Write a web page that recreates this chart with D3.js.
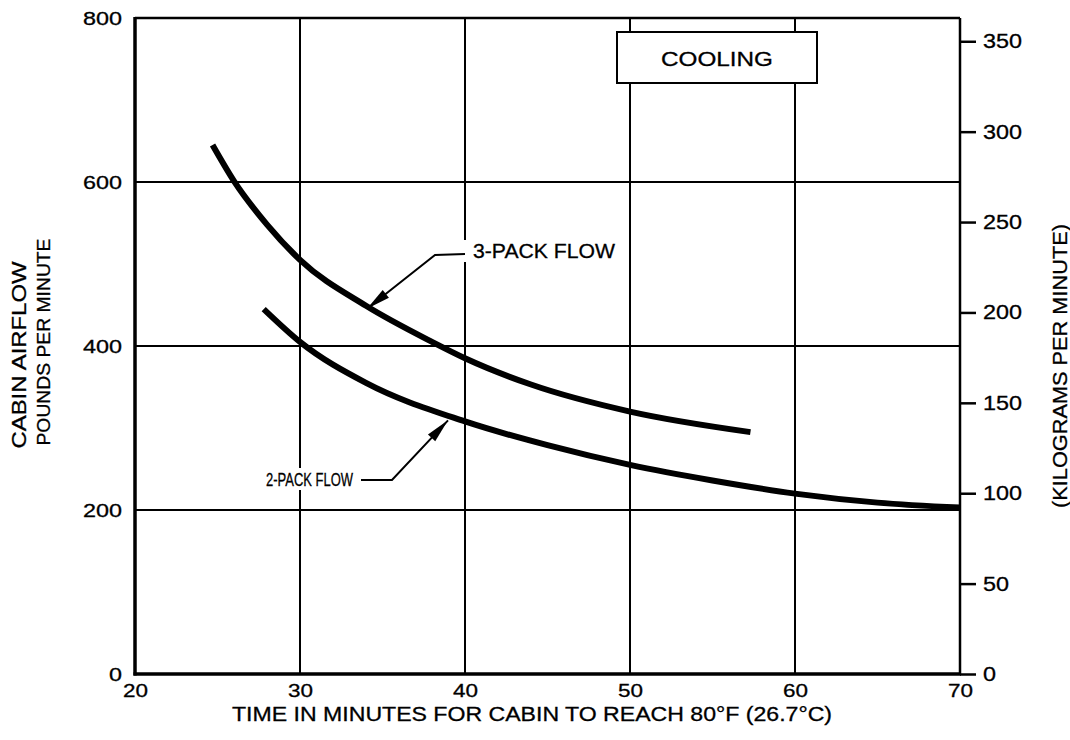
<!DOCTYPE html>
<html>
<head>
<meta charset="utf-8">
<script src="https://cdn.jsdelivr.net/npm/d3@7"></script>
<style>
  html, body { margin: 0; padding: 0; background: #fff; }
  svg { display: block; font-family: "Liberation Sans", Arial, Helvetica, sans-serif; }
  text { fill: #000; stroke: #000; stroke-width: 0.3px; }
</style>
</head>
<body>
<svg id="chart" width="1070" height="740"></svg>
<script>
// ---- data ----
const xTicks = [20, 30, 40, 50, 60, 70];
const lbTicks = [0, 200, 400, 600, 800];
const kgTicks = [0, 50, 100, 150, 200, 250, 300, 350];
const LB_PER_KG = 2.20462;

const threePackTime = [24.7, 26, 28, 30, 34, 38, 40, 44, 50, 57.3];
const threePackFlow = [645, 601, 548, 505, 449, 405, 385, 353, 320, 295];

const twoPackTime = [27.8, 30, 34, 40, 45, 50, 55, 60, 65, 70];
const twoPackFlow = [445, 405, 355, 308, 279, 255, 236, 220, 209, 203];

const boxLabel = "COOLING";
const xTitle = "TIME IN MINUTES FOR CABIN TO REACH 80°F (26.7°C)";
const yTitle1 = "CABIN AIRFLOW";
const yTitle2 = "POUNDS PER MINUTE";
const y2Title = "(KILOGRAMS PER MINUTE)";
const label3 = "3-PACK FLOW";
const label2 = "2-PACK FLOW";

// ---- layout ----
const svg = d3.select("#chart");
const L = 135, R = 960, T = 18, B = 674;
const x = d3.scaleLinear().domain([20, 70]).range([L, R]);
const y = d3.scaleLinear().domain([0, 800]).range([B, T]);
const y2 = d3.scaleLinear().domain([0, 800 / LB_PER_KG]).range([B, T]);

// grid
const grid = svg.append("g").attr("stroke", "#000").attr("stroke-width", 2);
grid.selectAll("line.v").data(xTicks.slice(1, -1)).join("line")
  .attr("x1", d => x(d)).attr("x2", d => x(d)).attr("y1", T).attr("y2", B);
grid.selectAll("line.h").data(lbTicks.slice(1, -1)).join("line")
  .attr("x1", L).attr("x2", R).attr("y1", d => y(d)).attr("y2", d => y(d));

// border
svg.append("line").attr("x1", L).attr("x2", R).attr("y1", T).attr("y2", T).attr("stroke", "#000").attr("stroke-width", 2.5);
svg.append("line").attr("x1", R).attr("x2", R).attr("y1", T).attr("y2", B).attr("stroke", "#000").attr("stroke-width", 2.5);
svg.append("line").attr("x1", L).attr("x2", L).attr("y1", T - 1).attr("y2", B + 1.5).attr("stroke", "#000").attr("stroke-width", 3.5);
svg.append("line").attr("x1", L - 1.5).attr("x2", R + 1).attr("y1", B).attr("y2", B).attr("stroke", "#000").attr("stroke-width", 3.5);

// axes
const fitDigits = (sel, w) => sel.selectAll("text")
  .attr("textLength", function() { return this.textContent.length * w; })
  .attr("lengthAdjust", "spacingAndGlyphs");

const gl = svg.append("g").attr("transform", `translate(${L},0)`)
  .call(d3.axisLeft(y).tickValues(lbTicks).tickSize(0).tickPadding(13));
gl.select(".domain").remove();
gl.selectAll("text").style("font-size", "19px").style("font-family", null).attr("fill", "#000");
fitDigits(gl, 13);

const gb = svg.append("g").attr("transform", `translate(0,${B})`)
  .call(d3.axisBottom(x).tickValues(xTicks).tickSize(0).tickPadding(10));
gb.select(".domain").remove();
gb.selectAll("text").style("font-size", "19px").style("font-family", null).attr("fill", "#000");
fitDigits(gb, 12.5);

const gr = svg.append("g").attr("transform", `translate(${R},0)`)
  .call(d3.axisRight(y2).tickValues(kgTicks).tickSize(16).tickPadding(7));
gr.select(".domain").remove();
gr.selectAll("line").attr("stroke", "#000").attr("stroke-width", 2.5);
gr.selectAll("text").style("font-size", "20px").style("font-family", null).attr("fill", "#000");
fitDigits(gr, 13);

// curves
const line = d3.line().curve(d3.curveMonotoneX);
const pts3 = threePackTime.map((t, i) => [x(t), y(threePackFlow[i])]);
const pts2 = twoPackTime.map((t, i) => [x(t), y(twoPackFlow[i])]);
svg.append("path").attr("d", line(pts3)).attr("fill", "none").attr("stroke", "#000").attr("stroke-width", 6);
svg.append("path").attr("d", line(pts2)).attr("fill", "none").attr("stroke", "#000").attr("stroke-width", 6);

// COOLING box
svg.append("rect").attr("x", 617).attr("y", 32).attr("width", 200).attr("height", 51)
  .attr("fill", "#fff").attr("stroke", "#000").attr("stroke-width", 2);
svg.append("text").attr("x", 717).attr("y", 65.5).attr("text-anchor", "middle")
  .style("font-size", "21px").attr("textLength", 112).attr("lengthAdjust", "spacingAndGlyphs").text(boxLabel);

// annotations
function arrowHead(tip, from, len, wid) {
  const dx = from[0] - tip[0], dy = from[1] - tip[1];
  const d = Math.hypot(dx, dy), ux = dx / d, uy = dy / d;
  const bx = tip[0] + ux * len, by = tip[1] + uy * len;
  const px = -uy * wid / 2, py = ux * wid / 2;
  return `M${tip[0]},${tip[1]}L${bx + px},${by + py}L${bx - px},${by - py}Z`;
}

// 3-pack label
svg.append("rect").attr("x", 462).attr("y", 240).attr("width", 160).attr("height", 22).attr("fill", "#fff");
svg.append("text").attr("x", 473).attr("y", 258).style("font-size", "20px")
  .attr("textLength", 142).attr("lengthAdjust", "spacingAndGlyphs").text(label3);
const tip3 = [x(34.06), y(449) + 3];
const elb3 = [435, 255];
svg.append("path").attr("d", `M465,254L${elb3[0]},${elb3[1]}L${tip3[0]},${tip3[1]}`)
  .attr("fill", "none").attr("stroke", "#000").attr("stroke-width", 2);
svg.append("path").attr("d", arrowHead(tip3, elb3, 24, 10)).attr("fill", "#000");

// 2-pack label
svg.append("rect").attr("x", 262).attr("y", 468).attr("width", 94).attr("height", 22).attr("fill", "#fff");
svg.append("text").attr("x", 266).attr("y", 486).style("font-size", "18px")
  .attr("textLength", 87).attr("lengthAdjust", "spacingAndGlyphs").text(label2);
const tip2 = [x(38.97), y(313) + 3];
const elb2 = [392, 480];
svg.append("path").attr("d", `M361,480L${elb2[0]},${elb2[1]}L${tip2[0]},${tip2[1]}`)
  .attr("fill", "none").attr("stroke", "#000").attr("stroke-width", 2);
svg.append("path").attr("d", arrowHead(tip2, elb2, 24, 10)).attr("fill", "#000");

// axis titles
svg.append("text").attr("x", 532).attr("y", 721).attr("text-anchor", "middle")
  .style("font-size", "20px").attr("textLength", 600).attr("lengthAdjust", "spacingAndGlyphs").text(xTitle);
svg.append("text").attr("transform", "translate(26,355) rotate(-90)").attr("text-anchor", "middle")
  .style("font-size", "21px").attr("textLength", 187).attr("lengthAdjust", "spacingAndGlyphs").text(yTitle1);
svg.append("text").attr("transform", "translate(50,342) rotate(-90)").attr("text-anchor", "middle")
  .style("font-size", "19px").attr("textLength", 207).attr("lengthAdjust", "spacingAndGlyphs").text(yTitle2);
svg.append("text").attr("transform", "translate(1067,366) rotate(-90)").attr("text-anchor", "middle")
  .style("font-size", "21px").attr("textLength", 284).attr("lengthAdjust", "spacingAndGlyphs").text(y2Title);
</script>
</body>
</html>
